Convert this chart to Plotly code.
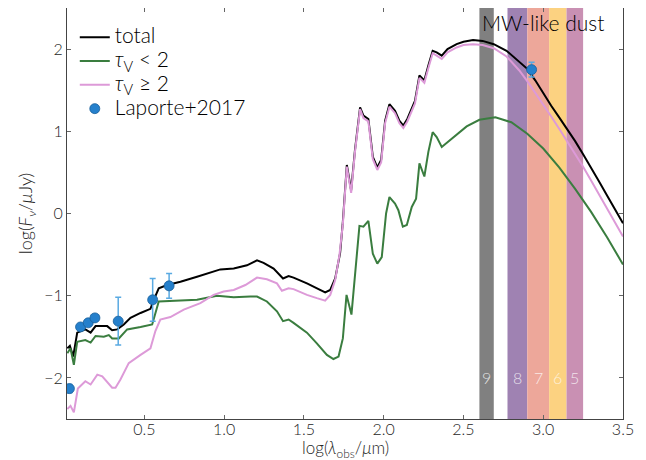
import plotly.graph_objects as go

# ---------------- data ----------------
total_x = [0.017, 0.033, 0.054, 0.079, 0.13, 0.163, 0.194, 0.236, 0.267, 0.298, 0.33, 0.371, 0.413,
           0.476, 0.538, 0.559, 0.59, 0.643, 0.726, 0.83, 0.914, 0.976, 1.06, 1.143, 1.206, 1.247,
           1.31, 1.369, 1.404, 1.435, 1.519, 1.581, 1.633, 1.665, 1.696, 1.727, 1.744, 1.769, 1.796,
           1.82, 1.852, 1.873, 1.904, 1.932, 1.96, 1.984, 2.009, 2.036, 2.071, 2.098, 2.123, 2.148,
           2.196, 2.224, 2.255, 2.28, 2.307, 2.332, 2.364, 2.40, 2.457, 2.50, 2.56, 2.62, 2.69, 2.77,
           2.85, 2.9, 2.95, 3.0, 3.05, 3.1, 3.15, 3.2, 3.25, 3.3, 3.35, 3.4, 3.45, 3.5]
total_y = [-1.64, -1.61, -1.74, -1.45, -1.41, -1.45, -1.37, -1.37, -1.37, -1.42, -1.41, -1.35, -1.27,
           -1.21, -1.16, -1.05, -0.91, -0.87, -0.83, -0.77, -0.72, -0.68, -0.67, -0.63, -0.57, -0.60,
           -0.67, -0.79, -0.76, -0.78, -0.85, -0.91, -0.96, -0.93, -0.79, -0.48, -0.10, 0.59, 0.28,
           0.77, 1.29, 1.19, 1.15, 0.69, 0.56, 0.65, 1.13, 1.33, 1.25, 1.13, 1.07, 1.15,
           1.37, 1.68, 1.62, 1.80, 1.98, 1.96, 1.92, 2.00, 2.06, 2.09, 2.11, 2.10, 2.06, 1.98,
           1.85, 1.76, 1.62, 1.46, 1.31, 1.17, 1.03, 0.88, 0.72, 0.56, 0.39, 0.22, 0.05, -0.12]

thin_x = [0.017, 0.037, 0.058, 0.079, 0.13, 0.163, 0.194, 0.246, 0.277, 0.298, 0.34, 0.392, 0.476,
          0.549, 0.59, 0.705, 0.83, 0.955, 1.06, 1.164, 1.206, 1.268, 1.331, 1.369, 1.404, 1.435,
          1.519, 1.581, 1.644, 1.685, 1.717, 1.744, 1.767, 1.798, 1.82, 1.848, 1.873, 1.904, 1.932,
          1.96, 1.988, 2.015, 2.036, 2.071, 2.092, 2.12, 2.145, 2.176, 2.203, 2.224, 2.255, 2.28,
          2.307, 2.332, 2.364, 2.436, 2.52, 2.6, 2.7, 2.8, 2.9, 3.0, 3.1, 3.2, 3.3, 3.4, 3.5]
thin_y = [-1.70, -1.64, -1.84, -1.56, -1.54, -1.57, -1.49, -1.50, -1.48, -1.52, -1.52, -1.41, -1.38,
          -1.35, -1.07, -1.06, -1.05, -1.00, -1.02, -1.01, -1.01, -1.07, -1.19, -1.31, -1.29, -1.33,
          -1.45, -1.58, -1.72, -1.77, -1.74, -1.52, -0.99, -1.23, -0.73, -0.15, -0.16, -0.09, -0.49,
          -0.61, -0.53, 0.00, 0.20, 0.12, 0.04, -0.16, -0.14, 0.08, 0.18, 0.61, 0.45, 0.75,
          0.99, 0.93, 0.81, 0.93, 1.06, 1.14, 1.17, 1.11, 0.97, 0.79, 0.56, 0.30, 0.02, -0.29, -0.62]

thick_x = [0.017, 0.037, 0.058, 0.083, 0.13, 0.163, 0.205, 0.236, 0.298, 0.319, 0.35, 0.402, 0.476,
           0.538, 0.569, 0.60, 0.663, 0.747, 0.851, 0.934, 0.997, 1.06, 1.133, 1.206, 1.268, 1.331,
           1.362, 1.404, 1.435, 1.519, 1.581, 1.633, 1.665, 1.696, 1.723, 1.744, 1.769, 1.796, 1.82,
           1.852, 1.873, 1.904, 1.932, 1.96, 1.984, 2.009, 2.036, 2.071, 2.098, 2.123, 2.148, 2.196,
           2.224, 2.255, 2.28, 2.307, 2.332, 2.364, 2.40, 2.457, 2.50, 2.56, 2.62, 2.69, 2.77, 2.85,
           2.9, 2.95, 3.0, 3.05, 3.1, 3.15, 3.2, 3.25, 3.3, 3.35, 3.4, 3.45, 3.5]
thick_y = [-2.38, -2.34, -2.42, -2.13, -2.04, -2.08, -1.96, -1.98, -2.12, -2.12, -2.02, -1.82, -1.72,
           -1.64, -1.43, -1.29, -1.26, -1.17, -1.09, -0.99, -0.95, -0.93, -0.87, -0.78, -0.80, -0.85,
           -0.94, -0.91, -0.92, -0.99, -1.03, -1.06, -0.99, -0.81, -0.50, -0.13, 0.57, 0.25, 0.75,
           1.27, 1.16, 1.12, 0.66, 0.53, 0.62, 1.10, 1.30, 1.22, 1.10, 1.04, 1.12, 1.34,
           1.65, 1.59, 1.77, 1.95, 1.92, 1.88, 1.96, 2.02, 2.05, 2.06, 2.05, 2.01, 1.91, 1.74,
           1.61, 1.47, 1.32, 1.18, 1.03, 0.88, 0.73, 0.57, 0.40, 0.23, 0.06, -0.11, -0.28]

obs_x = [0.03, 0.10, 0.148, 0.19, 0.336, 0.552, 0.655, 2.927]
obs_y = [-2.13, -1.38, -1.33, -1.27, -1.31, -1.05, -0.88, 1.75]
obs_err = [0.05, 0.03, 0.03, 0.03, 0.29, 0.26, 0.15, 0.09]

band_names = ["9", "8", "7", "6", "5"]
band_lo = [2.60, 2.776, 2.90, 3.037, 3.146]
band_hi = [2.69, 2.90, 3.037, 3.146, 3.25]
band_label_y = -2.0

legend_names = ["total", "<i>τ</i><sub>V</sub> < 2", "<i>τ</i><sub>V</sub> ≥ 2", "Laporte+2017"]

# ---------------- style ----------------
band_colors = ["#808080", "#9f82b2", "#eda79a", "#fcd281", "#c990b3"]
FONT = "Lato, 'Open Sans', 'DejaVu Sans', sans-serif"
TXT = "#262626"
W = 300


def big(s):
    return "<span style='font-size:21px'>" + s + "</span>"


fig = go.Figure()

fig.add_trace(go.Scatter(x=total_x, y=total_y, mode="lines", name=big(legend_names[0]),
                         line=dict(color="black", width=2)))
fig.add_trace(go.Scatter(x=thin_x, y=thin_y, mode="lines", name=big(legend_names[1]),
                         line=dict(color="#3a7d3f", width=2)))
fig.add_trace(go.Scatter(x=thick_x, y=thick_y, mode="lines", name=big(legend_names[2]),
                         line=dict(color="#dd9ad8", width=2)))
fig.add_trace(go.Scatter(x=obs_x, y=obs_y, mode="markers", name=big(legend_names[3]),
                         marker=dict(color="#2580cc", size=10,
                                     line=dict(color="#1b5f99", width=0.8)),
                         error_y=dict(type="data", array=obs_err, color="#5aaae2",
                                      thickness=1.5, width=3)))

for name, lo, hi, col in zip(band_names, band_lo, band_hi, band_colors):
    fig.add_shape(type="rect", xref="x", yref="paper", x0=lo, x1=hi, y0=0, y1=1,
                  fillcolor=col, line=dict(width=0), layer="below")
    fig.add_annotation(x=(lo + hi) / 2, y=band_label_y, text=name, showarrow=False,
                       font=dict(family=FONT, size=16, color="rgba(255,255,255,0.75)", weight=W))

fig.add_annotation(x=3.0, y=2.32, text="MW-like dust", showarrow=False,
                   font=dict(family=FONT, size=21, color="black", weight=W))

# x-axis title placed below the tick labels
fig.add_annotation(xref="paper", yref="paper", x=0.5, y=0, yanchor="top", yshift=-16,
                   text="log(<i>λ</i><sub>obs</sub>/<i>μ</i>m)", showarrow=False,
                   font=dict(family=FONT, size=17, color=TXT, weight=W))

axis_common = dict(showgrid=False, zeroline=False, showline=True, linecolor="#444",
                   linewidth=1, mirror="ticks", ticks="inside", ticklen=4,
                   tickcolor="#666", tickfont=dict(family=FONT, size=16, color=TXT, weight=W))

fig.update_xaxes(range=[0.015, 3.5], tickvals=[0.5, 1.0, 1.5, 2.0, 2.5, 3.0, 3.5],
                 ticktext=["0.5", "1.0", "1.5", "2.0", "2.5", "3.0", "3.5"],
                 ticklabelstandoff=-4,
                 **axis_common)
fig.update_yaxes(range=[-2.5, 2.5], tickvals=[-2, -1, 0, 1, 2],
                 ticktext=["−2", "−1", "0", "1", "2"],
                 title=dict(text="log(<i>F</i><sub><i>ν</i></sub>/<i>μ</i>Jy)", standoff=6,
                            font=dict(family=FONT, size=18, color=TXT, weight=W)),
                 **axis_common)

fig.update_layout(
    width=638, height=452,
    margin=dict(l=59, r=23, t=0, b=41, autoexpand=False),
    paper_bgcolor="white", plot_bgcolor="white",
    showlegend=True,
    legend=dict(x=0.014, y=0.97, xanchor="left", yanchor="top",
                bgcolor="rgba(0,0,0,0)", borderwidth=0,
                font=dict(family=FONT, size=16, color="black", weight=W),
                itemwidth=30, tracegroupgap=0),
    font=dict(family=FONT, weight=W),
)

fig.write_html("out.html")
